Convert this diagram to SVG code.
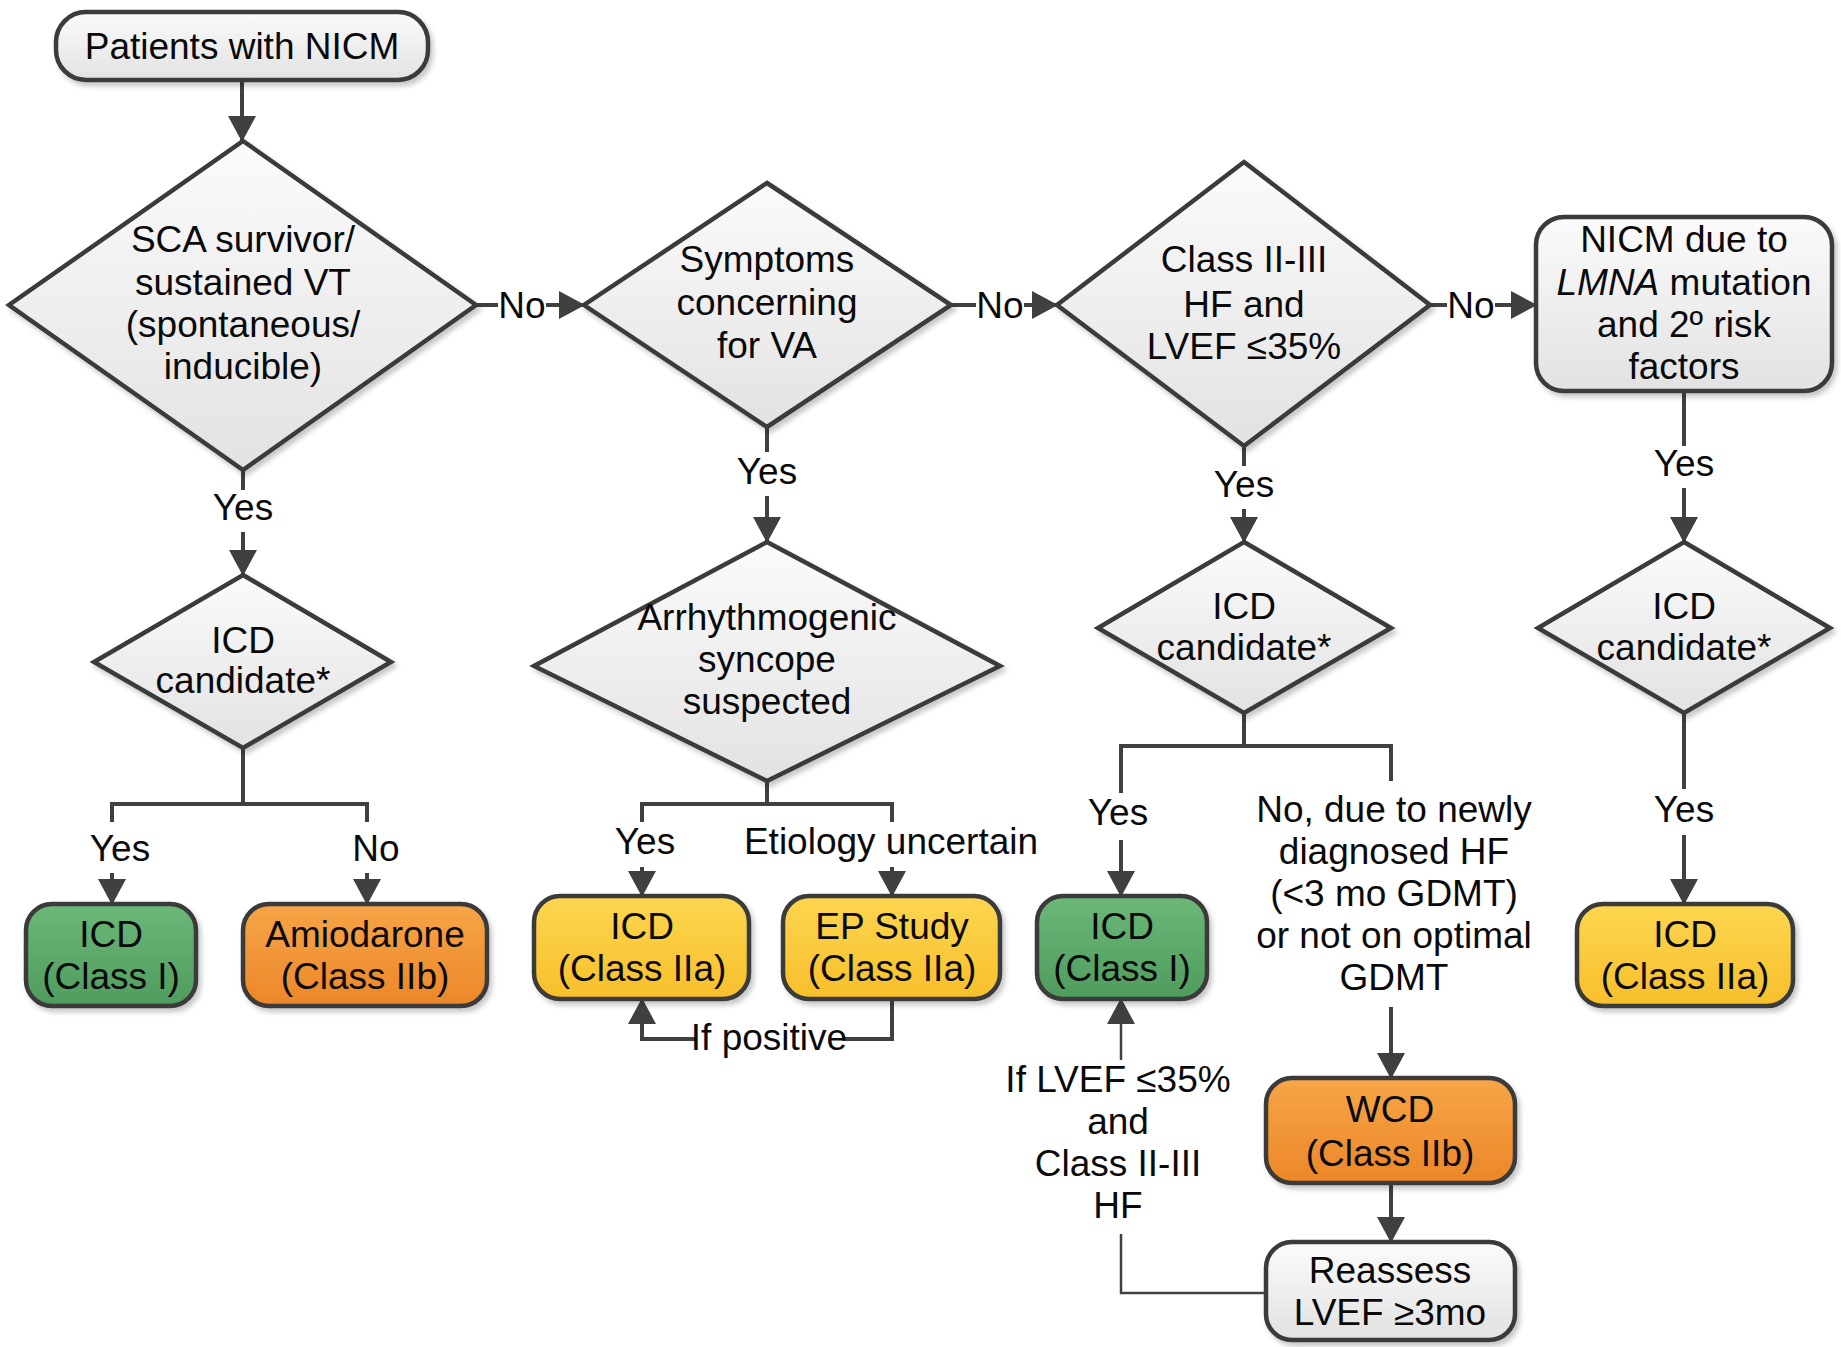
<svg xmlns="http://www.w3.org/2000/svg" width="1841" height="1347" viewBox="0 0 1841 1347">
<defs>
<style>
.t{font-family:"Liberation Sans",Arial,sans-serif;font-size:37px;fill:#0a0a0a;text-anchor:middle}
.s{stroke:#3a3a3a;stroke-width:4.5}
.c{stroke:#404040;stroke-width:4;fill:none}
.ct{stroke:#404040;stroke-width:2.5;fill:none}
.gray{fill:url(#gGray)}
.green{fill:url(#gGreen)}
.orange{fill:url(#gOrange)}
.yellow{fill:url(#gYellow)}
</style>
<linearGradient id="gGray" x1="0" y1="0" x2="0" y2="1"><stop offset="0" stop-color="#fbfbfb"/><stop offset="1" stop-color="#e2e2e2"/></linearGradient>
<linearGradient id="gGreen" x1="0" y1="0" x2="0" y2="1"><stop offset="0" stop-color="#6cb879"/><stop offset="1" stop-color="#4f9c5e"/></linearGradient>
<linearGradient id="gOrange" x1="0" y1="0" x2="0" y2="1"><stop offset="0" stop-color="#f6a648"/><stop offset="1" stop-color="#ec8628"/></linearGradient>
<linearGradient id="gYellow" x1="0" y1="0" x2="0" y2="1"><stop offset="0" stop-color="#fdd650"/><stop offset="1" stop-color="#f7bf2b"/></linearGradient>
<filter id="sh" x="-10%" y="-10%" width="130%" height="130%"><feDropShadow dx="3" dy="4" stdDeviation="2.5" flood-color="#000" flood-opacity="0.22"/></filter>
<marker id="ah" viewBox="0 0 26 28" refX="25" refY="14" markerWidth="26" markerHeight="28" markerUnits="userSpaceOnUse" orient="auto"><path d="M0,0 L26,14 L0,28 z" fill="#404040"/></marker>
</defs>
<rect width="1841" height="1347" fill="#fff"/>

<g id="connectors">
<line class="c" x1="242" y1="80" x2="242" y2="141" marker-end="url(#ah)"/>
<!-- No 1 -->
<line class="c" x1="476" y1="305" x2="498" y2="305"/>
<line class="c" x1="546" y1="305" x2="584" y2="305" marker-end="url(#ah)"/>
<text class="t" x="522" y="318">No</text>
<!-- No 2 -->
<line class="c" x1="951" y1="305" x2="976" y2="305"/>
<line class="c" x1="1024" y1="305" x2="1057" y2="305" marker-end="url(#ah)"/>
<text class="t" x="1000" y="318">No</text>
<!-- No 3 -->
<line class="c" x1="1430" y1="305" x2="1447" y2="305"/>
<line class="c" x1="1495" y1="305" x2="1536" y2="305" marker-end="url(#ah)"/>
<text class="t" x="1471" y="318">No</text>

<!-- column 1 -->
<line class="c" x1="243" y1="470" x2="243" y2="490"/>
<text class="t" x="243" y="520">Yes</text>
<line class="c" x1="243" y1="532" x2="243" y2="575" marker-end="url(#ah)"/>
<polyline class="c" points="243,748 243,804"/>
<polyline class="c" points="112,822 112,804 367,804 367,822"/>
<text class="t" x="120" y="861">Yes</text>
<text class="t" x="376" y="861">No</text>
<line class="c" x1="112" y1="873" x2="112" y2="904" marker-end="url(#ah)"/>
<line class="c" x1="367" y1="873" x2="367" y2="904" marker-end="url(#ah)"/>

<!-- column 2 -->
<line class="c" x1="767" y1="427" x2="767" y2="452"/>
<text class="t" x="767" y="484">Yes</text>
<line class="c" x1="767" y1="496" x2="767" y2="542" marker-end="url(#ah)"/>
<polyline class="c" points="767,781 767,804"/>
<polyline class="c" points="642,822 642,804 892,804 892,822"/>
<text class="t" x="645" y="854">Yes</text>
<text class="t" x="891" y="854">Etiology uncertain</text>
<line class="c" x1="642" y1="867" x2="642" y2="896" marker-end="url(#ah)"/>
<line class="c" x1="892" y1="867" x2="892" y2="896" marker-end="url(#ah)"/>
<polyline class="c" points="892,999 892,1039 842,1039"/>
<polyline class="c" points="695,1039 642,1039 642,999" marker-end="url(#ah)"/>
<text class="t" x="769" y="1050">If positive</text>

<!-- column 3 -->
<line class="c" x1="1244" y1="446" x2="1244" y2="466"/>
<text class="t" x="1244" y="497">Yes</text>
<line class="c" x1="1244" y1="509" x2="1244" y2="542" marker-end="url(#ah)"/>
<polyline class="c" points="1244,713 1244,746"/>
<polyline class="c" points="1121,793 1121,746 1391,746 1391,781"/>
<text class="t" x="1118" y="825">Yes</text>
<line class="c" x1="1121" y1="840" x2="1121" y2="896" marker-end="url(#ah)"/>
<text class="t" x="1394" y="822">No, due to newly</text>
<text class="t" x="1394" y="864">diagnosed HF</text>
<text class="t" x="1394" y="906">(&lt;3 mo GDMT)</text>
<text class="t" x="1394" y="948">or not on optimal</text>
<text class="t" x="1394" y="990">GDMT</text>
<line class="c" x1="1391" y1="1007" x2="1391" y2="1078" marker-end="url(#ah)"/>
<line class="c" x1="1391" y1="1183" x2="1391" y2="1242" marker-end="url(#ah)"/>
<polyline class="ct" points="1266,1293 1121,1293 1121,1234"/>
<line class="ct" x1="1121" y1="1060" x2="1121" y2="999" marker-end="url(#ah)"/>
<text class="t" x="1118" y="1092">If LVEF ≤35%</text>
<text class="t" x="1118" y="1134">and</text>
<text class="t" x="1118" y="1176">Class II-III</text>
<text class="t" x="1118" y="1218">HF</text>

<!-- column 4 -->
<line class="c" x1="1684" y1="391" x2="1684" y2="446"/>
<text class="t" x="1684" y="476">Yes</text>
<line class="c" x1="1684" y1="488" x2="1684" y2="542" marker-end="url(#ah)"/>
<line class="c" x1="1684" y1="713" x2="1684" y2="789"/>
<text class="t" x="1684" y="822">Yes</text>
<line class="c" x1="1684" y1="835" x2="1684" y2="904" marker-end="url(#ah)"/>
</g>

<g id="n_start">
<rect class="s gray" x="56" y="12" width="372" height="68" rx="30" filter="url(#sh)"/>
<text class="t" x="242" y="59">Patients with NICM</text>
</g>

<g id="n_sca">
<polygon class="s gray" points="243,141 476,305 243,470 9,305" filter="url(#sh)"/>
<text class="t" x="243" y="252">SCA survivor/</text>
<text class="t" x="243" y="295">sustained VT</text>
<text class="t" x="243" y="337">(spontaneous/</text>
<text class="t" x="243" y="379">inducible)</text>
</g>

<g id="n_symptoms">
<polygon class="s gray" points="767,183 951,305 767,427 584,305" filter="url(#sh)"/>
<text class="t" x="767" y="272">Symptoms</text>
<text class="t" x="767" y="315">concerning</text>
<text class="t" x="767" y="358">for VA</text>
</g>

<g id="n_hf">
<polygon class="s gray" points="1244,162 1430,305 1244,446 1057,305" filter="url(#sh)"/>
<text class="t" x="1244" y="272">Class II-III</text>
<text class="t" x="1244" y="317">HF and</text>
<text class="t" x="1244" y="359">LVEF ≤35%</text>
</g>

<g id="n_lmna">
<rect class="s gray" x="1536" y="217" width="296" height="174" rx="28" filter="url(#sh)"/>
<text class="t" x="1684" y="252">NICM due to</text>
<text class="t" x="1684" y="295"><tspan font-style="italic">LMNA</tspan> mutation</text>
<text class="t" x="1684" y="337">and 2º risk</text>
<text class="t" x="1684" y="379">factors</text>
</g>

<g id="n_cand1">
<polygon class="s gray" points="243,575 391,662 243,748 94,662" filter="url(#sh)"/>
<text class="t" x="243" y="653">ICD</text>
<text class="t" x="243" y="693">candidate*</text>
</g>

<g id="n_syncope">
<polygon class="s gray" points="767,542 1000,666 767,781 534,666" filter="url(#sh)"/>
<text class="t" x="767" y="630">Arrhythmogenic</text>
<text class="t" x="767" y="672">syncope</text>
<text class="t" x="767" y="714">suspected</text>
</g>

<g id="n_cand3">
<polygon class="s gray" points="1244,542 1391,628 1244,713 1098,628" filter="url(#sh)"/>
<text class="t" x="1244" y="619">ICD</text>
<text class="t" x="1244" y="660">candidate*</text>
</g>

<g id="n_cand4">
<polygon class="s gray" points="1684,542 1830,628 1684,713 1538,628" filter="url(#sh)"/>
<text class="t" x="1684" y="619">ICD</text>
<text class="t" x="1684" y="660">candidate*</text>
</g>

<g id="n_icd1">
<rect class="s green" x="26" y="904" width="170" height="102" rx="26" filter="url(#sh)"/>
<text class="t" x="111" y="947">ICD</text>
<text class="t" x="111" y="989">(Class I)</text>
</g>

<g id="n_amio">
<rect class="s orange" x="243" y="904" width="244" height="102" rx="26" filter="url(#sh)"/>
<text class="t" x="365" y="947">Amiodarone</text>
<text class="t" x="365" y="989">(Class IIb)</text>
</g>

<g id="n_icd2">
<rect class="s yellow" x="534" y="896" width="215" height="103" rx="26" filter="url(#sh)"/>
<text class="t" x="642" y="939">ICD</text>
<text class="t" x="642" y="981">(Class IIa)</text>
</g>

<g id="n_ep">
<rect class="s yellow" x="783" y="896" width="217" height="103" rx="26" filter="url(#sh)"/>
<text class="t" x="892" y="939">EP Study</text>
<text class="t" x="892" y="981">(Class IIa)</text>
</g>

<g id="n_icd3">
<rect class="s green" x="1037" y="896" width="170" height="103" rx="26" filter="url(#sh)"/>
<text class="t" x="1122" y="939">ICD</text>
<text class="t" x="1122" y="981">(Class I)</text>
</g>

<g id="n_wcd">
<rect class="s orange" x="1266" y="1078" width="249" height="105" rx="26" filter="url(#sh)"/>
<text class="t" x="1390" y="1122">WCD</text>
<text class="t" x="1390" y="1166">(Class IIb)</text>
</g>

<g id="n_reassess">
<rect class="s gray" x="1266" y="1242" width="249" height="98" rx="26" filter="url(#sh)"/>
<text class="t" x="1390" y="1283">Reassess</text>
<text class="t" x="1390" y="1325">LVEF ≥3mo</text>
</g>

<g id="n_icd4">
<rect class="s yellow" x="1577" y="904" width="216" height="102" rx="26" filter="url(#sh)"/>
<text class="t" x="1685" y="947">ICD</text>
<text class="t" x="1685" y="989">(Class IIa)</text>
</g>
</svg>
